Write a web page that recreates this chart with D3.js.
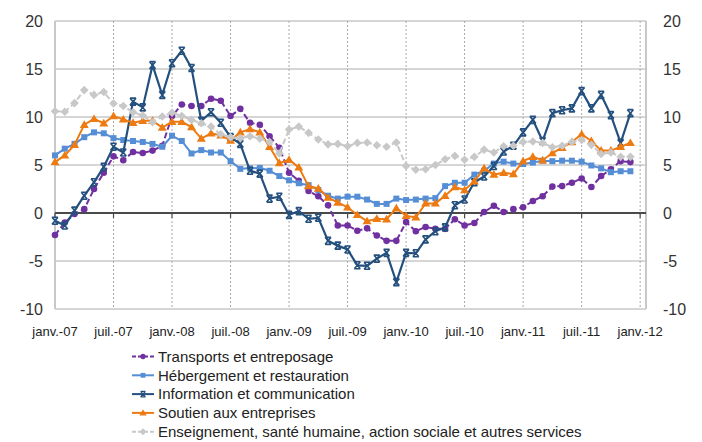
<!DOCTYPE html>
<html><head><meta charset="utf-8">
<script src="https://cdn.jsdelivr.net/npm/d3@7"></script>
<style>
html,body{margin:0;padding:0;background:#fff;}
svg{display:block;font-family:"Liberation Sans",Arial,sans-serif;}
</style></head>
<body><svg id="chart" width="702" height="442"></svg>
<script>
// monthly, janv.-07 .. déc.-11
const months = d3.range(60);
const xTickLabels = ["janv.-07","juil.-07","janv.-08","juil.-08","janv.-09","juil.-09","janv.-10","juil.-10","janv.-11","juil.-11","janv.-12"];
const yTicks = [-10,-5,0,5,10,15,20];
const seriesNames = ["Transports et entreposage","Hébergement et restauration","Information et communication","Soutien aux entreprises","Enseignement, santé humaine, action sociale et autres services"];

const transports = [-2.3,-1.0,-0.1,0.4,2.5,4.2,5.9,5.5,6.35,6.25,6.5,7.0,
  10.1,11.3,11.15,11.15,11.9,11.7,10.1,10.85,9.4,9.2,8.0,6.8,
  4.2,3.35,2.3,1.75,0.8,-1.3,-1.3,-1.85,-1.6,-2.35,-2.9,-2.9,
  -0.95,-1.9,-1.45,-1.65,-1.65,-0.65,-1.3,-1.05,0.1,0.75,0.1,0.4,
  0.6,1.25,1.75,2.75,2.8,3.15,3.6,2.7,3.85,4.55,5.4,5.3];
const hebergement = [6.0,6.7,7.2,7.9,8.4,8.3,7.8,7.6,7.5,7.4,7.2,6.9,
  8.05,7.5,6.2,6.55,6.3,6.3,5.4,4.6,4.65,4.7,4.4,3.85,
  3.4,3.1,2.9,2.4,1.8,1.5,1.7,1.7,1.4,0.95,0.95,1.5,
  1.35,1.4,1.5,1.55,2.8,3.15,3.15,4.0,4.4,5.15,5.35,5.15,
  5.1,5.25,5.45,5.4,5.45,5.45,5.35,4.95,4.65,4.25,4.35,4.35];
const information = [-0.8,-1.3,0.25,1.8,3.2,4.8,6.9,6.3,11.6,11.0,15.4,12.3,
  15.6,16.9,15.1,9.6,10.5,9.4,7.9,7.2,4.4,4.1,1.5,1.7,
  -0.2,0.2,-0.6,-0.5,-2.9,-3.4,-3.8,-5.45,-5.5,-4.75,-4.15,-7.2,
  -4.15,-4.2,-2.75,-1.9,-1.5,0.8,1.4,3.2,3.8,4.9,6.4,7.0,
  8.4,9.7,7.5,10.4,10.7,10.9,12.7,10.9,12.3,10.2,7.3,10.4];
const soutien = [5.3,6.0,7.1,9.2,9.8,9.35,10.1,9.75,9.4,9.6,9.6,8.9,
  9.5,9.5,8.95,7.75,8.3,8.1,7.55,8.4,8.75,8.4,6.9,5.2,
  5.55,4.75,2.8,2.55,1.6,1.1,0.6,-0.2,-0.85,-0.6,-0.65,0.5,
  -0.3,-0.45,1.0,1.0,1.8,2.7,2.4,3.3,4.65,4.0,4.2,4.05,
  5.4,5.85,5.5,6.25,6.8,7.4,8.2,7.5,6.5,6.5,6.9,7.3];
const enseignement = [10.6,10.55,11.45,12.8,12.3,12.6,11.4,11.15,10.5,10.15,9.45,10.05,
  10.45,10.1,9.7,9.35,9.0,8.2,7.9,7.8,8.0,7.75,7.4,6.2,
  8.7,9.0,8.35,7.65,7.15,7.2,6.95,7.3,7.35,7.05,6.9,7.35,
  4.9,4.5,4.55,5.0,5.6,5.95,5.55,5.85,6.6,6.3,6.95,7.0,
  7.4,7.45,7.3,6.85,7.0,7.4,7.6,7.1,6.15,6.3,5.85,5.85];

const seriesValues = [transports, hebergement, information, soutien, enseignement];
const colors = ["#7030A0","#558ED5","#24507E","#EE7A12","#C8C8C8"];
const dashes = ["6,3",null,null,null,"6,3"];
const markers = ["circle","square","star","triangle","diamond"];

const svg = d3.select("#chart");
const L = 55, R = 646, T = 21, B = 309;
const x = d3.scaleLinear().domain([0, 60.6]).range([L, R]);
const y = d3.scaleLinear().domain([-10, 20]).range([B, T]);

// horizontal gridlines
svg.append("g").selectAll("line").data(yTicks).join("line")
  .attr("x1", L).attr("x2", R).attr("y1", d => y(d)).attr("y2", d => y(d))
  .attr("stroke", "#C8C8C8").attr("stroke-width", 1.5);
// vertical dotted gridlines
const tickMonths = d3.range(6, 61, 6);
svg.append("g").selectAll("line").data(tickMonths).join("line")
  .attr("x1", d => x(d)).attr("x2", d => x(d)).attr("y1", T).attr("y2", B)
  .attr("stroke", "#A8A8A8").attr("stroke-width", 1).attr("stroke-dasharray", "2,2");
// left and right axis lines
svg.append("line").attr("x1", L).attr("x2", L).attr("y1", T).attr("y2", B).attr("stroke", "#C8C8C8").attr("stroke-width", 2);
svg.append("line").attr("x1", R).attr("x2", R).attr("y1", T).attr("y2", B).attr("stroke", "#C8C8C8").attr("stroke-width", 2);

// zero axis with ticks
svg.append("line").attr("x1", L).attr("x2", R).attr("y1", y(0)).attr("y2", y(0)).attr("stroke", "#4A4A4A").attr("stroke-width", 2);
svg.append("g").selectAll("line").data(d3.range(0, 61, 6)).join("line")
  .attr("x1", d => x(d)).attr("x2", d => x(d)).attr("y1", y(0)).attr("y2", y(0) + 5)
  .attr("stroke", "#4A4A4A").attr("stroke-width", 1.2);

// y labels
const yl = svg.append("g").attr("font-size", 16).attr("fill", "#333");
yl.selectAll("text.l").data(yTicks).join("text").attr("class","l")
  .attr("x", 43).attr("y", d => y(d)).attr("dy", "0.36em").attr("text-anchor", "end").text(d => d);
yl.selectAll("text.r").data(yTicks).join("text").attr("class","r")
  .attr("x", 663).attr("y", d => y(d)).attr("dy", "0.36em").attr("text-anchor", "start").text(d => d);

// x labels
svg.append("g").attr("font-size", 13).attr("fill", "#222")
  .selectAll("text").data(xTickLabels).join("text")
  .attr("x", (d, i) => x(i * 6)).attr("y", 331).attr("dy", "0.35em")
  .attr("text-anchor", "middle").text(d => d);

function markerPath(type) {
  switch (type) {
    case "circle": return d3.symbol(d3.symbolCircle, 34)();
    case "square": return "M-3,-3H3V3H-3Z";
    case "triangle": return "M0,-4.5L4.5,3.2H-4.5Z";
    case "diamond": return "M0,-4.3L4.3,0L0,4.3L-4.3,0Z";
    case "star": return "M-3,-3.5H3M-3,3.5H3M-3,-3.5L3,3.5M3,-3.5L-3,3.5";
  }
}
function drawMarker(g, type, color) {
  const p = g.append("path").attr("d", markerPath(type));
  if (type === "star") p.attr("fill", "none").attr("stroke", color).attr("stroke-width", 1.6);
  else p.attr("fill", color).attr("stroke", "none");
}

const line = d3.line().x((d, i) => x(i)).y(d => y(d));
seriesValues.forEach((vals, s) => {
  const g = svg.append("g");
  g.append("path").datum(vals).attr("d", line).attr("fill", "none")
    .attr("stroke", colors[s]).attr("stroke-width", s === 2 ? 2.2 : 2)
    .attr("stroke-dasharray", dashes[s]);
  const pts = g.selectAll("g.pt").data(vals).join("g").attr("class", "pt")
    .attr("transform", (d, i) => `translate(${x(i)},${y(d)})`);
  pts.each(function () { drawMarker(d3.select(this), markers[s], colors[s]); });
});

// legend
const leg = svg.append("g").attr("font-size", 15).attr("fill", "#222");
seriesNames.forEach((name, s) => {
  const cy = 356.5 + s * 18.8;
  const g = leg.append("g");
  g.append("line").attr("x1", 132).attr("x2", 154).attr("y1", cy).attr("y2", cy)
    .attr("stroke", colors[s]).attr("stroke-width", 2).attr("stroke-dasharray", dashes[s] ? "4,2" : null);
  const m = g.append("g").attr("transform", `translate(143,${cy}) scale(0.8)`);
  drawMarker(m, markers[s], colors[s]);
  g.append("text").attr("x", 158).attr("y", cy).attr("dy", "0.35em").text(name);
});
</script></body></html>
